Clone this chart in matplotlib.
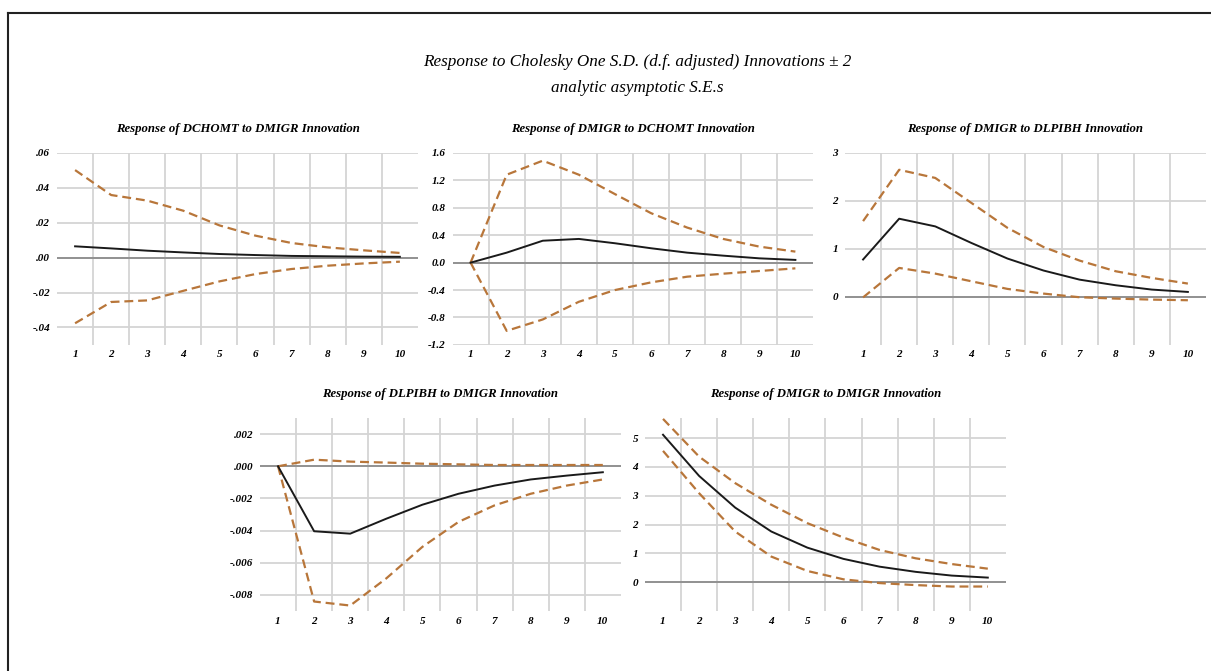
import matplotlib.pyplot as plt
from matplotlib.lines import Line2D

periods = [1, 2, 3, 4, 5, 6, 7, 8, 9, 10]

# Response of DCHOMT to DMIGR
p1_resp = [0.0065, 0.0053, 0.0040, 0.0030, 0.0021, 0.0015, 0.0010, 0.0008, 0.0006, 0.0005]
p1_up = [0.0502, 0.0359, 0.0327, 0.0269, 0.0185, 0.0126, 0.0084, 0.0059, 0.0042, 0.0027]
p1_lo = [-0.0376, -0.0254, -0.0245, -0.0190, -0.0136, -0.0094, -0.0065, -0.0046, -0.0033, -0.0023]

# Response of DMIGR to DCHOMT
p2_resp = [0.0, 0.146, 0.320, 0.346, 0.283, 0.210, 0.146, 0.102, 0.063, 0.040]
p2_up = [0.0, 1.283, 1.488, 1.283, 1.000, 0.722, 0.512, 0.346, 0.234, 0.161]
p2_lo = [0.0, -0.995, -0.829, -0.571, -0.400, -0.288, -0.205, -0.161, -0.122, -0.083]

# Response of DMIGR to DLPIBH
p3_resp = [0.78, 1.63, 1.47, 1.125, 0.80, 0.55, 0.36, 0.243, 0.153, 0.104]
p3_up = [1.58, 2.65, 2.48, 1.96, 1.44, 1.04, 0.757, 0.535, 0.396, 0.278]
p3_lo = [-0.01, 0.604, 0.486, 0.326, 0.167, 0.069, -0.007, -0.035, -0.056, -0.069]

# Response of DLPIBH to DMIGR
p4_resp = [0.0, -0.00404, -0.00419, -0.00326, -0.00239, -0.00171, -0.00120, -0.00082, -0.00058, -0.00037]
p4_up = [0.0, 0.00041, 0.00029, 0.00023, 0.00016, 0.00012, 0.00008, 0.00008, 0.00008, 0.00008]
p4_lo = [0.0, -0.00841, -0.00866, -0.00697, -0.00501, -0.00346, -0.00243, -0.00171, -0.00120, -0.00082]

# Response of DMIGR to DMIGR
p5_resp = [5.12, 3.69, 2.59, 1.76, 1.20, 0.81, 0.54, 0.36, 0.23, 0.16]
p5_up = [5.67, 4.36, 3.44, 2.69, 2.05, 1.55, 1.12, 0.83, 0.63, 0.47]
p5_lo = [4.56, 3.09, 1.76, 0.89, 0.39, 0.10, -0.03, -0.10, -0.15, -0.15]

panels = [
    ("Response of DCHOMT to DMIGR Innovation", p1_resp, p1_up, p1_lo,
     [-0.04, -0.02, 0.0, 0.02, 0.04, 0.06], ['-.04', '-.02', '.00', '.02', '.04', '.06'], (-0.05, 0.06)),
    ("Response of DMIGR to DCHOMT Innovation", p2_resp, p2_up, p2_lo,
     [-1.2, -0.8, -0.4, 0.0, 0.4, 0.8, 1.2, 1.6], ['-1.2', '-0.8', '-0.4', '0.0', '0.4', '0.8', '1.2', '1.6'], (-1.2, 1.6)),
    ("Response of DMIGR to DLPIBH Innovation", p3_resp, p3_up, p3_lo,
     [0, 1, 2, 3], ['0', '1', '2', '3'], (-1.0, 3.0)),
    ("Response of DLPIBH to DMIGR Innovation", p4_resp, p4_up, p4_lo,
     [-0.008, -0.006, -0.004, -0.002, 0.0, 0.002], ['-.008', '-.006', '-.004', '-.002', '.000', '.002'], (-0.009, 0.003)),
    ("Response of DMIGR to DMIGR Innovation", p5_resp, p5_up, p5_lo,
     [0, 1, 2, 3, 4, 5], ['0', '1', '2', '3', '4', '5'], (-1.0, 5.7)),
]

positions = [
    [0.0471, 0.486, 0.298, 0.286],
    [0.3737, 0.486, 0.298, 0.286],
    [0.6978, 0.486, 0.298, 0.286],
    [0.2147, 0.0894, 0.298, 0.2876],
    [0.5326, 0.0894, 0.298, 0.2876],
]

serif = 'Liberation Serif'
band_color = '#b8763a'
grid_color = '#d4d4d4'

fig = plt.figure(figsize=(12.11, 6.71), dpi=100)

# frame on the left and top edge
fig.add_artist(Line2D([0.0066, 0.0066], [0, 0.9806], color='#222222', lw=1.5, transform=fig.transFigure))
fig.add_artist(Line2D([0.0066, 1.0], [0.9806, 0.9806], color='#222222', lw=1.5, transform=fig.transFigure))

fig.text(0.5265, 0.908, "Response to Cholesky One S.D. (d.f. adjusted) Innovations \u00b1 2",
         ha='center', va='center', fontsize=12.3, style='italic', family=serif)
fig.text(0.5265, 0.869, "analytic asymptotic S.E.s",
         ha='center', va='center', fontsize=12.3, style='italic', family=serif)

for (title, resp, up, lo, yt, ylab, ylim), pos in zip(panels, positions):
    ax = fig.add_axes(pos)
    ax.set_xlim(0.5, 10.5)
    ax.set_ylim(*ylim)
    for v in yt:
        ax.axhline(v, color=grid_color, lw=1.3, zorder=0)
    ax.axhline(0, color='#8c8c8c', lw=1.3, zorder=1)
    for b in range(1, 10):
        ax.axvline(b + 0.5, color=grid_color, lw=1.3, zorder=0)
    ax.plot(periods, up, color=band_color, lw=1.6, dashes=(4, 2.2), zorder=2)
    ax.plot(periods, lo, color=band_color, lw=1.6, dashes=(4, 2.2), zorder=2)
    ax.plot(periods, resp, color='#1a1a1a', lw=1.4, zorder=3)
    for s in ax.spines.values():
        s.set_visible(False)
    ax.set_xticks(periods)
    ax.set_xticklabels([str(p) for p in periods])
    ax.set_yticks(yt)
    ax.set_yticklabels(ylab)
    ax.tick_params(axis='x', length=0, labelsize=8, pad=4)
    ax.tick_params(axis='y', length=0, labelsize=8, pad=5)
    for lab in ax.get_xticklabels() + ax.get_yticklabels():
        lab.set_family(serif)
        lab.set_fontweight('bold')
        lab.set_fontstyle('italic')
    ax.set_title(title, fontsize=9.2, fontweight='bold', style='italic', family=serif, pad=15)

fig.savefig('out.png', dpi=100)
